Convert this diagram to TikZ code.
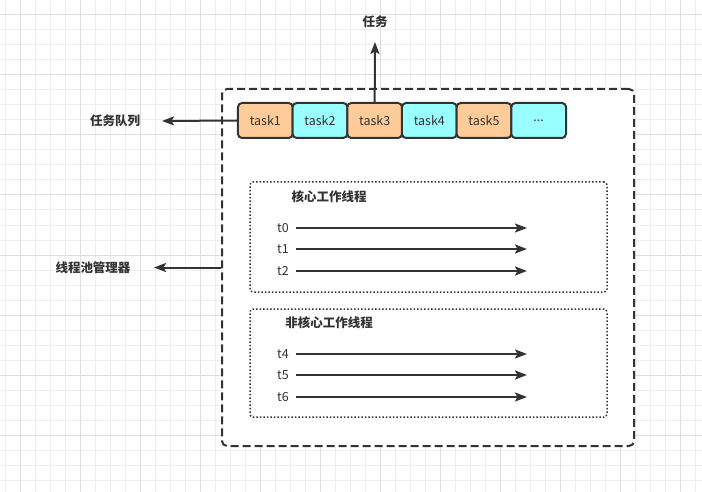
\documentclass[tikz,border=0pt]{standalone}
\usepackage{fontspec}
\setmainfont{Noto Sans CJK SC}
\usetikzlibrary{arrows.meta}
\definecolor{ink}{HTML}{333333}
\definecolor{gridminor}{HTML}{EEEEEE}
\definecolor{gridmajor}{HTML}{DEDEDE}
\definecolor{orangebox}{HTML}{FFCC99}
\definecolor{cyanbox}{HTML}{99FFFF}
\tikzset{
  minorline/.style={draw=gridminor, line width=1pt},
  majorline/.style={draw=gridmajor, line width=1pt},
  container/.style={draw=ink, fill=white, line width=2pt, rounded corners=5pt,
    dash pattern=on 8pt off 4pt, minimum width=412pt, minimum height=357pt, inner sep=0pt},
  groupbox/.style={draw=ink, fill=white, line width=1.5pt, rounded corners=3pt,
    dash pattern=on 1.5pt off 2pt, minimum width=357pt, inner sep=0pt},
  taskbox/.style={draw=ink, line width=2pt, rounded corners=4pt, minimum width=54.67pt,
    minimum height=35pt, inner sep=0pt, text=ink, font=\fontsize{12.5pt}{14pt}\selectfont},
  orangetask/.style={taskbox, fill=orangebox},
  cyantask/.style={taskbox, fill=cyanbox},
  biglabel/.style={text=ink, font=\fontsize{12.5pt}{14pt}\selectfont\bfseries, inner sep=0pt},
  tlabel/.style={text=ink, font=\fontsize{12.5pt}{14pt}\selectfont, inner sep=0pt},
  arr/.style={draw=ink, line width=2pt, -{Stealth[length=12pt,width=9pt,inset=2.5pt]}},
}
\begin{document}
\begin{tikzpicture}[x=1pt,y=-1pt]
\useasboundingbox (0,0) rectangle (702,492);
\fill[white] (0,0) rectangle (702,492);
% grid
\foreach \x in {5,20,...,700} \draw[minorline] (\x,0) -- (\x,492);
\foreach \y in {0,15,...,490} \draw[minorline] (0,\y) -- (702,\y);
\foreach \x in {20,80,...,680} \draw[majorline] (\x,0) -- (\x,492);
\foreach \y in {15,75,...,490} \draw[majorline] (0,\y) -- (702,\y);

% container
\node[container] (pool) at (428,267.5) {};

% task queue
\node[orangetask] (k1) at (265.33,120.5) {task1};
\node[cyantask]   (k2) at (320,120.5) {task2};
\node[orangetask] (k3) at (374.67,120.5) {task3};
\node[cyantask]   (k4) at (429.33,120.5) {task4};
\node[orangetask] (k5) at (484,120.5) {task5};
\node[cyantask]   (k6) at (538.67,120.5) {...};

% outer labels
\node[biglabel] (taskl) at (375,22) {任务};
\node[biglabel] (queuel) at (115,121) {任务队列};
\node[biglabel] (mgrl) at (93,268) {线程池管理器};
\coordinate (uptip) at (375,42);
\coordinate (qtip) at (162,121);
\coordinate (mtip) at (154,267.5);
\draw[arr] (k3.north) -- (uptip);
\draw[arr] (k1.west) -- (qtip);
\draw[arr] (pool.west) -- (mtip);

% core threads
\node[groupbox, minimum height=110pt] (core) at (428.5,237) {};
\node[biglabel] (corel) at (329,197) {核心工作线程};
\node[tlabel] (t0) at (283,228) {t0};
\node[tlabel] (t1) at (283,249) {t1};
\node[tlabel] (t2) at (283,271) {t2};
\coordinate (e0) at (527,228);
\coordinate (e1) at (527,249);
\coordinate (e2) at (527,271);
\draw[arr, shorten <=7pt] (t0.east) -- (e0);
\draw[arr, shorten <=7pt] (t1.east) -- (e1);
\draw[arr, shorten <=7pt] (t2.east) -- (e2);

% non-core threads
\node[groupbox, minimum height=108pt] (noncore) at (428.5,363) {};
\node[biglabel] (noncorel) at (329,323) {非核心工作线程};
\node[tlabel] (t4) at (283,354) {t4};
\node[tlabel] (t5) at (283,375) {t5};
\node[tlabel] (t6) at (283,397) {t6};
\coordinate (e4) at (527,354);
\coordinate (e5) at (527,375);
\coordinate (e6) at (527,397);
\draw[arr, shorten <=7pt] (t4.east) -- (e4);
\draw[arr, shorten <=7pt] (t5.east) -- (e5);
\draw[arr, shorten <=7pt] (t6.east) -- (e6);
\end{tikzpicture}
\end{document}
